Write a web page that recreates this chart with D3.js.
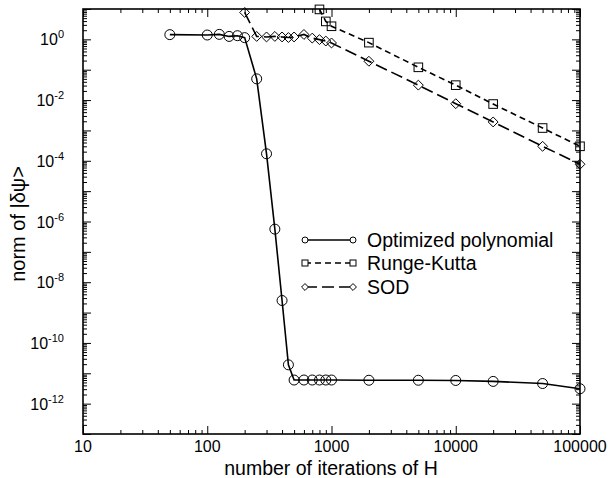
<!DOCTYPE html>
<html><head><meta charset="utf-8">
<script src="https://cdn.jsdelivr.net/npm/d3@7"></script>
<style>body{margin:0;background:#fff}svg{display:block}text{font-family:"Liberation Sans",Arial,Helvetica,sans-serif;fill:#000}</style>
</head><body>
<script>
const polyX = [50,100,125,150,175,200,250,300,350,400,450,500,600,700,800,900,1000,2000,5000,10000,20000,50000,100000];
const polyY = [1.43,1.39,1.46,1.25,1.32,1.14,0.05,1.7e-4,5.6e-7,2.5e-9,1.9e-11,6.0e-12,6.0e-12,6.0e-12,6.0e-12,6.0e-12,6.0e-12,5.9e-12,5.9e-12,5.8e-12,5.4e-12,4.6e-12,3.1e-12];
const rkX = [800,900,1000,2000,5000,10000,20000,50000,100000];
const rkY = [9.7,3.9,2.7,0.78,0.12,0.031,7.4e-3,1.2e-3,3.0e-4];
const sodX = [200,250,300,350,400,450,500,600,700,800,900,1000,2000,5000,10000,20000,50000,100000];
const sodY = [7.7,1.25,1.2,1.25,1.2,1.15,1.2,1.45,1.1,0.98,0.88,0.76,0.19,0.031,7.6e-3,1.9e-3,3.0e-4,7.7e-5];
const seriesNames = ["Optimized polynomial","Runge-Kutta","SOD"];
const xTickValues = [10,100,1000,10000,100000];
const yLabelExps = [0,-2,-4,-6,-8,-10,-12];

const W=608,H=478, L=83,R=580,T=9,B=434;
const svg=d3.select("body").append("svg").attr("width",W).attr("height",H);
const x=d3.scaleLog().domain([10,100000]).range([L,R]);
const y=d3.scaleLog().domain([1e-13,10]).range([B,T]);

const xMinor=[]; for(let e=1;e<5;e++) for(let m=2;m<10;m++) xMinor.push(m*Math.pow(10,e));
const yMajor=[]; for(let e=-13;e<=1;e++) yMajor.push(Math.pow(10,e));
const yMinor=[]; for(let e=-13;e<1;e++) for(let m=2;m<10;m++) yMinor.push(m*Math.pow(10,e));

const g=svg.append("g");
function ticks(axisGen, vals, size, tr){
  const a=g.append("g").attr("transform",tr).call(axisGen.tickValues(vals).tickSize(size).tickFormat(""));
  a.select(".domain").remove();
  a.selectAll("line").attr("stroke","#000").attr("stroke-width",1);
}
ticks(d3.axisTop(x), xTickValues, 8, `translate(0,${B})`);
ticks(d3.axisTop(x), xMinor, 4, `translate(0,${B})`);
ticks(d3.axisBottom(x), xTickValues, 8, `translate(0,${T})`);
ticks(d3.axisBottom(x), xMinor, 4, `translate(0,${T})`);
ticks(d3.axisRight(y), yMajor, 8, `translate(${L},0)`);
ticks(d3.axisRight(y), yMinor, 4, `translate(${L},0)`);
ticks(d3.axisLeft(y), yMajor, 8, `translate(${R},0)`);
ticks(d3.axisLeft(y), yMinor, 4, `translate(${R},0)`);

g.append("rect").attr("x",L).attr("y",T).attr("width",R-L).attr("height",B-T)
 .attr("fill","none").attr("stroke","#000").attr("stroke-width",1.6);

g.selectAll(".xl").data(xTickValues).enter().append("text")
 .attr("x",d=>x(d)).attr("y",B+18).attr("text-anchor","middle").attr("font-size",16).text(d=>String(d));
const yl=g.selectAll(".yl").data(yLabelExps).enter().append("text")
 .attr("x",64).attr("y",d=>y(Math.pow(10,d))+6).attr("text-anchor","end").attr("font-size",16);
yl.append("tspan").text("10");
yl.append("tspan").attr("dy",-7).attr("font-size",11).text(d=>String(d));

svg.append("text").attr("x",331).attr("y",475).attr("text-anchor","middle").attr("font-size",19.5).text("number of iterations of H");
svg.append("text").attr("transform","translate(25,224) rotate(-90)").attr("text-anchor","middle").attr("font-size",20).text("norm of |δψ>");

const line=d3.line().x(d=>x(d[0])).y(d=>y(d[1]));
const series=[
 {xs:polyX,ys:polyY,dash:null,mk:"circle"},
 {xs:rkX,ys:rkY,dash:"6,4",mk:"square"},
 {xs:sodX,ys:sodY,dash:"12,5",mk:"diamond"}
];
function marker(sel,type,cx,cy,s){
  if(type==="circle") sel.append("circle").attr("cx",cx).attr("cy",cy).attr("r",s);
  else if(type==="square") sel.append("rect").attr("x",cx-s).attr("y",cy-s).attr("width",2*s).attr("height",2*s);
  else sel.append("path").attr("d",`M${cx},${cy-s*1.15}L${cx+s*1.15},${cy}L${cx},${cy+s*1.15}L${cx-s*1.15},${cy}Z`);
}
series.forEach(s=>{
  const pts=s.xs.map((v,i)=>[v,s.ys[i]]);
  const gg=svg.append("g");
  gg.append("path").datum(pts).attr("d",line).attr("fill","none").attr("stroke","#000").attr("stroke-width",1.6)
    .attr("stroke-dasharray",s.dash);
  const mg=gg.append("g").attr("fill","none").attr("stroke","#000").attr("stroke-width",1);
  pts.forEach(p=>marker(mg,s.mk,x(p[0]),y(p[1]),s.mk==="circle"?5:4.3));
});

const legY=[240,263,287];
series.forEach((s,i)=>{
  const lg=svg.append("g");
  lg.append("line").attr("x1",305).attr("x2",353).attr("y1",legY[i]).attr("y2",legY[i])
    .attr("stroke","#000").attr("stroke-width",1.5).attr("stroke-dasharray",s.dash);
  const mg=lg.append("g").attr("fill","#fff").attr("stroke","#000").attr("stroke-width",1);
  marker(mg,s.mk,305,legY[i],3);
  marker(mg,s.mk,353,legY[i],3);
  lg.append("text").attr("x",367).attr("y",legY[i]+7).attr("font-size",19.5).text(seriesNames[i]);
});
</script>
</body></html>
